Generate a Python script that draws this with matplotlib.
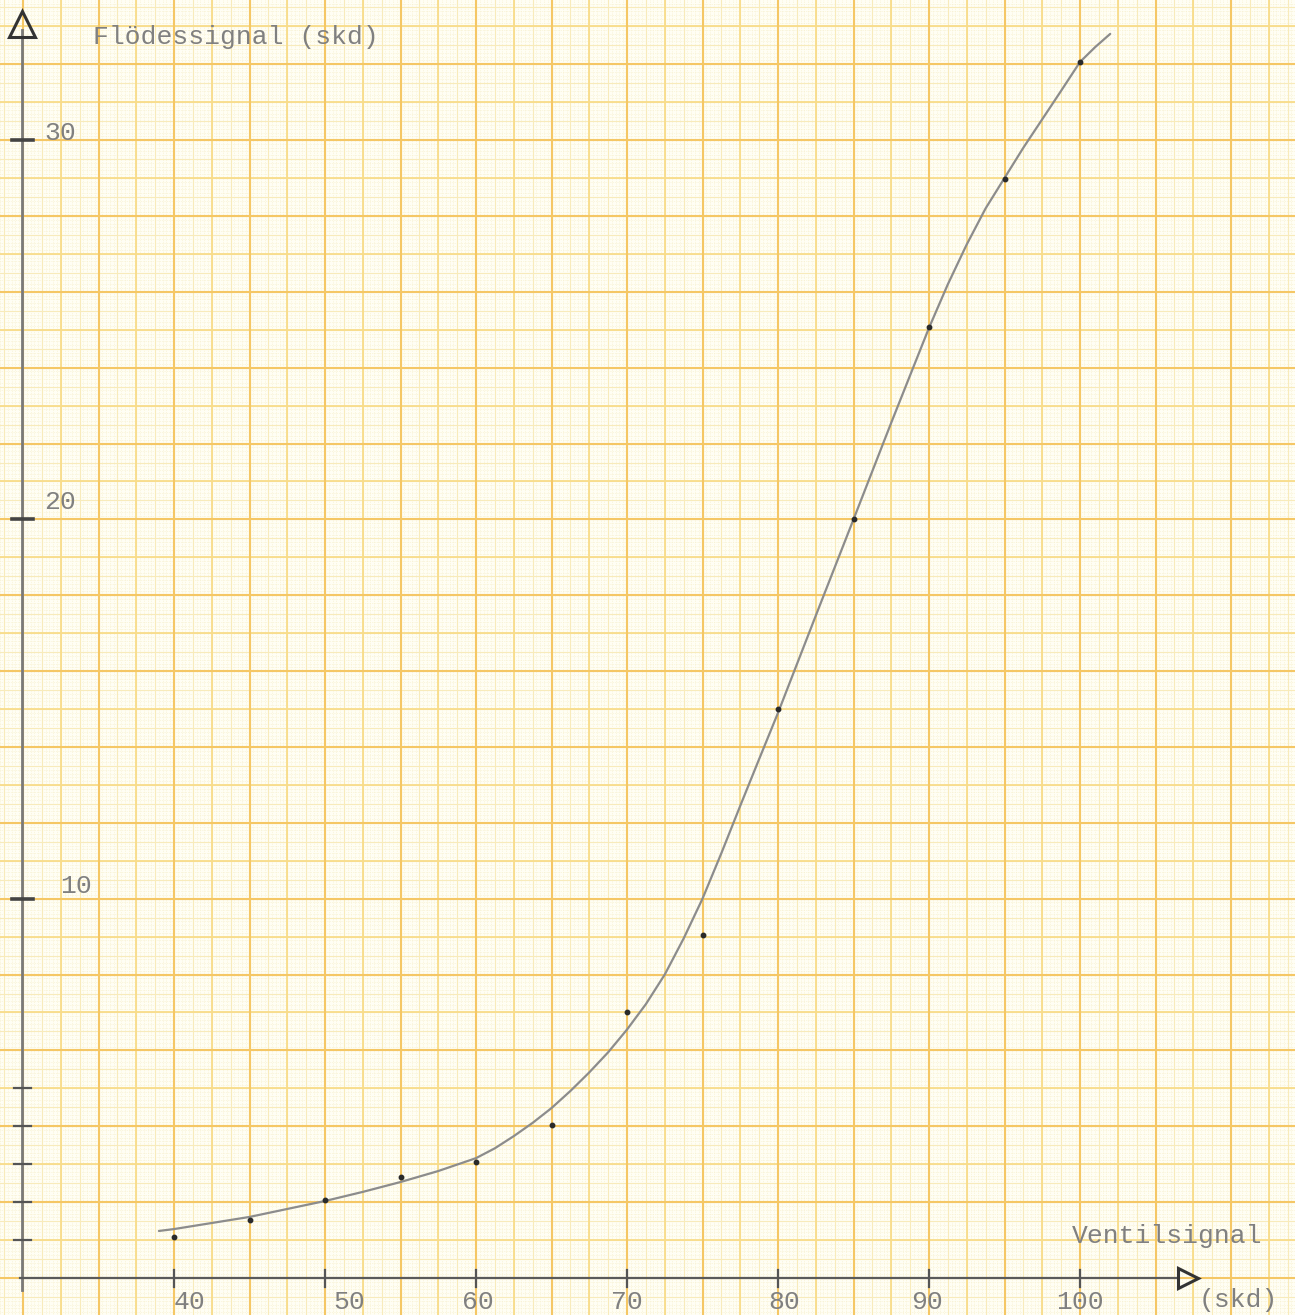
import numpy as np
import matplotlib
matplotlib.use("Agg")
import matplotlib.pyplot as plt

# ---- data ----
meas_x = [40, 45, 50, 55, 60, 65, 70, 75, 80, 85, 90, 95, 100]
meas_y = [1.08, 1.53, 2.05, 2.66, 3.05, 4.03, 7.0, 9.03, 15.0, 20.0, 25.08, 28.97, 32.06]

curve_x = [39, 40, 42.5, 45, 47.5, 50, 52.5, 55, 57.5, 60, 61.25, 62.5, 63.75, 65, 66.25, 67.5,
           68.75, 70, 71.25, 72.5, 73.75, 75, 76.25, 77.5, 78.75, 80, 82.5, 85, 87.5, 90,
           91.25, 92.5, 93.75, 95, 96.25, 97.5, 98.75, 100, 101, 102]
curve_y = [1.24, 1.29, 1.45, 1.61, 1.82, 2.03, 2.27, 2.53, 2.82, 3.16, 3.42, 3.74, 4.09, 4.48,
           4.93, 5.42, 5.95, 6.55, 7.22, 8.0, 8.95, 10.0, 11.2, 12.45, 13.68, 14.9, 17.46,
           20.0, 22.55, 25.05, 26.2, 27.25, 28.2, 29.0, 29.8, 30.55, 31.3, 32.06, 32.45, 32.8]

x_ticks = [40, 50, 60, 70, 80, 90, 100]
x_tick_labels = ["40", "50", "60", "70", "80", "90", "100"]
y_major_ticks = [10, 20, 30]
y_minor_ticks = [1, 2, 3, 4, 5]
y_title = "Flödessignal (skd)"
x_title = "Ventilsignal"
x_unit = "(skd)"

# ---- figure ----
W, H = 1295, 1315
bg = "#fffef4"
fig = plt.figure(figsize=(W / 100, H / 100), dpi=100)
fig.patch.set_facecolor(bg)
ax = fig.add_axes([0, 0, 1, 1])
ax.set_facecolor(bg)
ax.axis("off")

px_x = 15.1          # pixels per x unit
px_y = 37.93         # pixels per y unit
x0 = 40 - 174 / px_x
x1 = x0 + W / px_x
y1 = 1278 / px_y
y0 = -(H - 1278) / px_y
ax.set_xlim(x0, x1)
ax.set_ylim(y0, y1)

# ---- graph paper ----
def vlines(step, **kw):
    start = np.ceil((x0 - 40) / step) * step + 40
    for v in np.arange(start, x1, step):
        ax.axvline(v, **kw)

def hlines(step, **kw):
    start = np.ceil(y0 / step) * step
    for v in np.arange(start, y1, step):
        ax.axhline(v, **kw)

fine = dict(color="#f6eec8", lw=0.5, ls=(0, (1, 1.5)), zorder=0)
vlines(0.25, **fine)
hlines(0.1, **fine)
half = dict(color="#f8ebbb", lw=0.8, zorder=0.5)
vlines(1.25, **half)
hlines(0.5, **half)
mid = dict(color="#f8dc8a", lw=1.3, zorder=1)
vlines(2.5, **mid)
hlines(1.0, **mid)
heavy = dict(color="#f5c765", lw=1.5, zorder=1.2)
vlines(5, **heavy)
hlines(2, **heavy)

# ---- axes drawn on the paper ----
axis_col = "#5a5a5a"
yax_x = x0 + 22 / px_x
ax.plot([yax_x, yax_x], [y0 + 0.65, y1 - 0.8], color="#7a7a7a", lw=2.0, zorder=3)
ax.plot([yax_x], [y1 - 0.62], marker="^", ms=19, mfc="none", mec="#333333", mew=2.2, zorder=4)
ax.plot([x0 + 20 / px_x, x0 + 1178 / px_x], [0, 0], color=axis_col, lw=1.6, zorder=3)
ax.plot([x0 + 1188 / px_x], [0], marker=">", ms=14, mfc="none", mec="#333333", mew=2.2, zorder=4)

for t in y_major_ticks:
    ax.plot([x0 + 12 / px_x, x0 + 33 / px_x], [t, t], color="#444444", lw=2.6, zorder=4)
for t in y_minor_ticks:
    ax.plot([x0 + 14 / px_x, x0 + 31 / px_x], [t, t], color="#555555", lw=1.6, zorder=4)
for t in x_ticks:
    ax.plot([t, t], [-0.25, 0.22], color="#555555", lw=1.6, zorder=4)

# ---- text ----
tfont = dict(family=["Liberation Mono", "DejaVu Sans Mono"], color="#808080", fontsize=19)
label_dx = [1.0, 1.6, 0.1, 0.0, 0.4, -0.1, 0.0]
for t, lab, dx in zip(x_ticks, x_tick_labels, label_dx):
    ax.text(t + dx, y0 + (H - 1302) / px_y, lab, ha="center", va="center", **tfont)
y_label_x = [x0 + 76 / px_x, x0 + 60 / px_x, x0 + 60 / px_x]
y_label_dy = [0.34, 0.47, 0.18]
for t, xx, dy in zip(y_major_ticks, y_label_x, y_label_dy):
    ax.text(xx, t + dy, str(t), ha="center", va="center", **tfont)
ax.text(x0 + 93 / px_x, y1 - 37 / px_y, y_title, ha="left", va="center", **tfont)
ax.text(x0 + 1262 / px_x, 1.1, x_title, ha="right", va="center", **tfont)
ax.text(x0 + 1278 / px_x, y0 + (H - 1300) / px_y, x_unit, ha="right", va="center", **tfont)

# ---- curve and measured points ----
ax.plot(curve_x, curve_y, color="#8c8c8c", lw=1.6, zorder=5, solid_capstyle="round",
        solid_joinstyle="round")
ax.plot(meas_x, meas_y, ls="none", marker="o", ms=3.2, color="#2a2a2a", zorder=6)

fig.savefig("out.png", dpi=100, facecolor=fig.get_facecolor())
